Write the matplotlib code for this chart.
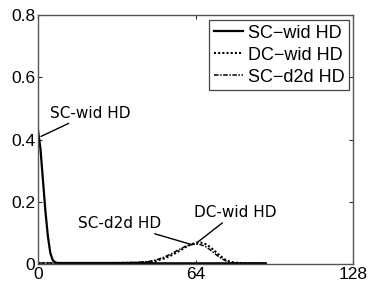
import matplotlib
matplotlib.use("Agg")
import matplotlib.pyplot as plt

# ----------------------------------------------
# data (distance vs. fraction)
# ----------------------------------------------
sc_wid_x = [0, 1, 2, 3, 4, 5, 6, 7, 8, 10, 20, 30, 40, 50, 60, 70, 80, 92]
sc_wid_y = [0.43, 0.37, 0.27, 0.17, 0.09, 0.035, 0.012, 0.005, 0.003, 0.003,
            0.003, 0.003, 0.003, 0.002, 0.002, 0.002, 0.002, 0.002]

dc_wid_x = [0, 10, 20, 30, 40, 45, 48, 51, 54, 57, 60, 62, 64, 66, 68, 70,
            72, 74, 76, 78, 80, 85, 93]
dc_wid_y = [0.003, 0.003, 0.003, 0.003, 0.004, 0.006, 0.010, 0.017, 0.027,
            0.040, 0.054, 0.062, 0.068, 0.069, 0.064, 0.054, 0.040, 0.026,
            0.014, 0.007, 0.004, 0.002, 0.002]

sc_d2d_x = [0, 10, 20, 30, 40, 45, 48, 51, 54, 57, 60, 62, 64, 66, 68, 70,
            72, 74, 76, 78, 80, 85, 93]
sc_d2d_y = [0.003, 0.003, 0.003, 0.003, 0.005, 0.008, 0.013, 0.021, 0.032,
            0.045, 0.057, 0.062, 0.064, 0.062, 0.056, 0.045, 0.032, 0.020,
            0.011, 0.005, 0.003, 0.002, 0.002]

x_ticks = [0, 64, 128]
y_ticks = [0, 0.2, 0.4, 0.6, 0.8]
y_tick_labels = ["0", "0.2", "0.4", "0.6", "0.8"]

fig = plt.figure(figsize=(3.69, 2.91), dpi=100)
ax = fig.add_axes([0.103, 0.093, 0.854, 0.855])

ax.plot(sc_wid_x, sc_wid_y, color="black", lw=1.6, ls="-", label="SC\u2212wid HD")
ax.plot(dc_wid_x, dc_wid_y, color="black", lw=1.5, ls=(0, (1, 1)), label="DC\u2212wid HD")
ax.plot(sc_d2d_x, sc_d2d_y, color="black", lw=1.1, ls=(0, (3, 1, 1, 1)), label="SC\u2212d2d HD")

ax.set_xlim(0, 128)
ax.set_ylim(0, 0.8)
ax.set_xticks(x_ticks)
ax.set_yticks(y_ticks)
ax.set_yticklabels(y_tick_labels)
ax.tick_params(direction="in", length=3, top=True, right=True,
               labelsize=12.5, colors="#333333", labelcolor="black", pad=2)
for lab in ax.get_xticklabels() + ax.get_yticklabels():
    lab.set_family("Liberation Sans")
for sp in ax.spines.values():
    sp.set_color("#555555")
    sp.set_linewidth(1.0)

ann = dict(arrowstyle="-", color="black", lw=1.0, shrinkA=0, shrinkB=0)
ax.annotate("SC-wid HD", xy=(1.2, 0.41), xytext=(5, 0.485), fontsize=11,
            ha="left", va="center", arrowprops=ann)
ax.annotate("SC-d2d HD", xy=(62.5, 0.062), xytext=(50, 0.13), fontsize=11,
            ha="right", va="center", arrowprops=ann)
ax.annotate("DC-wid HD", xy=(64.5, 0.068), xytext=(63.5, 0.165), fontsize=11,
            ha="left", va="center", arrowprops=ann)

leg = ax.legend(loc="upper right", bbox_to_anchor=(0.988, 0.98), borderaxespad=0,
                handlelength=1.6, handletextpad=0.3, borderpad=0.25,
                labelspacing=0.28, fancybox=False, framealpha=1,
                edgecolor="#444444", prop={"family": "Liberation Sans", "size": 13})
leg.get_frame().set_linewidth(0.9)

fig.savefig("out.png", dpi=100)
